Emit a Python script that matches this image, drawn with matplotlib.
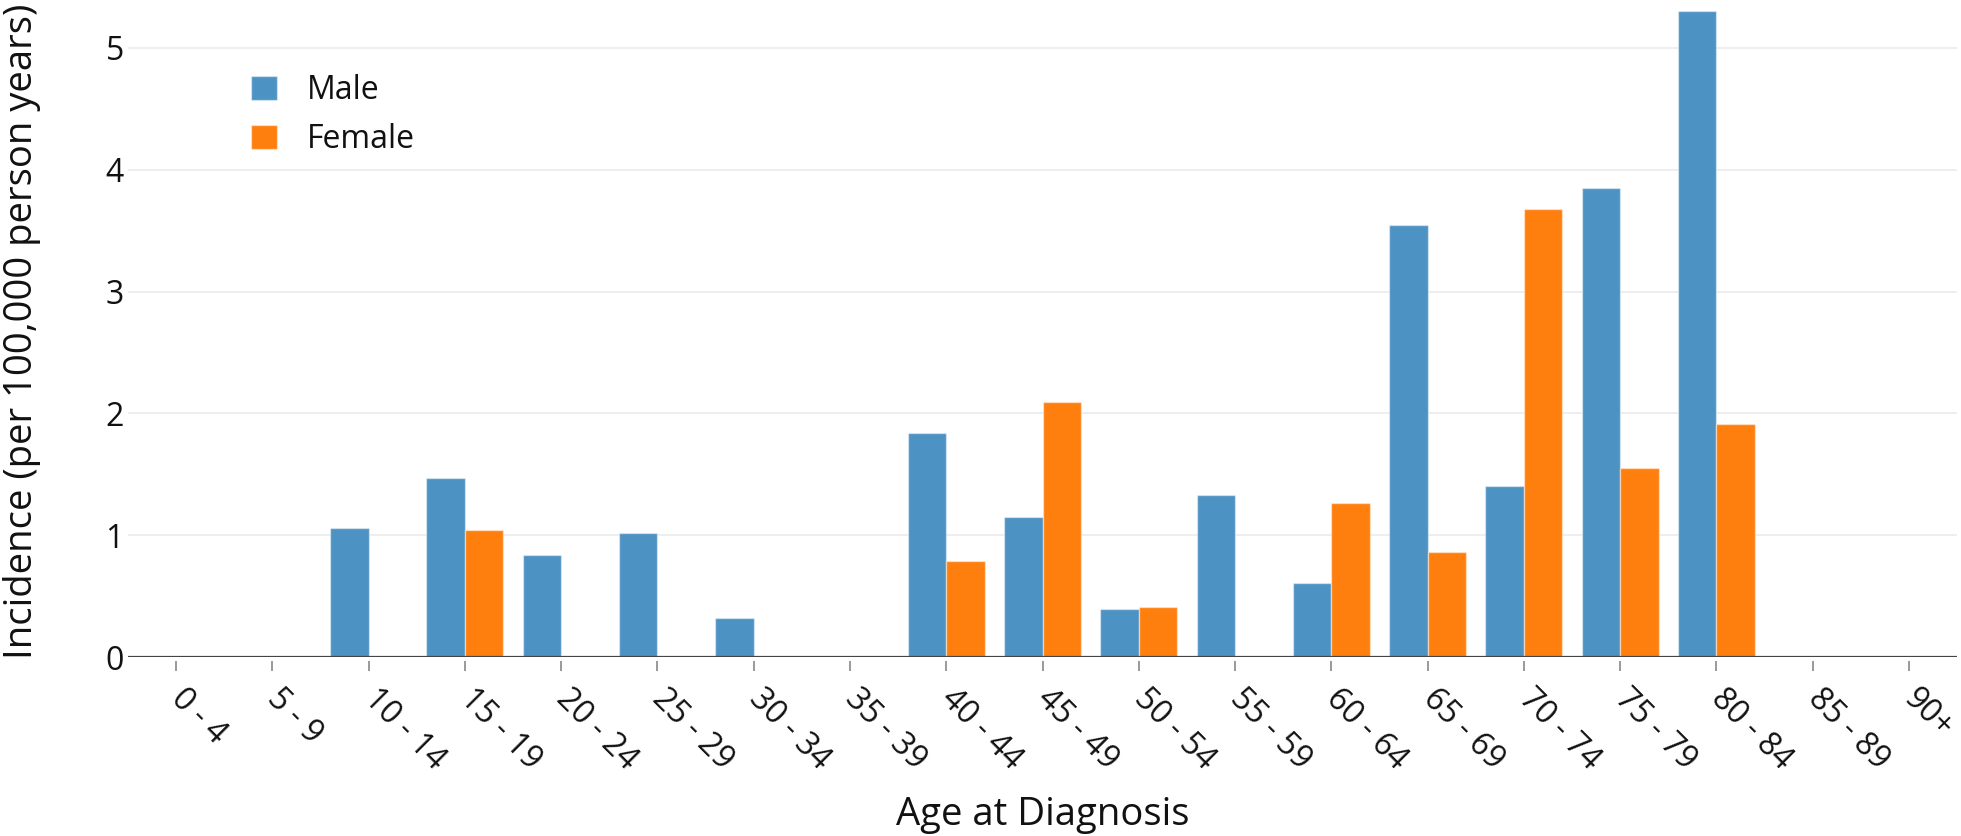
import numpy as np
import matplotlib.pyplot as plt
from matplotlib.patches import Patch

plt.rcParams['font.family'] = ['Open Sans', 'DejaVu Sans']

age_groups = ['0 - 4', '5 - 9', '10 - 14', '15 - 19', '20 - 24', '25 - 29', '30 - 34',
              '35 - 39', '40 - 44', '45 - 49', '50 - 54', '55 - 59', '60 - 64',
              '65 - 69', '70 - 74', '75 - 79', '80 - 84', '85 - 89', '90+']
male = [0, 0, 1.06, 1.47, 0.84, 1.02, 0.32, 0, 1.84, 1.15, 0.39, 1.33, 0.61,
        3.55, 1.40, 3.85, 5.30, 0, 0]
female = [0, 0, 0, 1.04, 0, 0, 0, 0, 0.79, 2.09, 0.41, 0, 1.26,
          0.86, 3.68, 1.55, 1.91, 0, 0]
yticks = [0, 1, 2, 3, 4, 5]

blue = '#4c92c3'
orange = '#ff7f0e'

W, H = 1961, 836
fig = plt.figure(figsize=(W / 100, H / 100), dpi=100)
# plot area in pixels: left 128, right 1957, top 4, zero line at 657
ax = fig.add_axes([128 / W, (H - 657) / H, (1957 - 128) / W, (657 - 4) / H])

x = np.arange(len(age_groups))
edge = (1, 1, 1, 0.45)
ax.bar(x - 0.2, male, width=0.4, color=blue, edgecolor=edge, linewidth=1.0, zorder=2)
ax.bar(x + 0.2, female, width=0.4, color=orange, edgecolor=edge, linewidth=1.0, zorder=2)

ax.set_xlim(-0.5, len(age_groups) - 0.5)
ax.set_ylim(0, 5.36)
ax.axhline(0, color='#444444', lw=1.6, zorder=3)

for s in ['top', 'right', 'left']:
    ax.spines[s].set_visible(False)
ax.spines['bottom'].set_position(('outward', 3))
ax.spines['bottom'].set_visible(False)

ax.set_yticks(yticks)
ax.yaxis.grid(True, color='#eeeeee', lw=1.4, zorder=0)
ax.set_axisbelow(True)
ax.tick_params(axis='y', length=0, pad=3, labelsize=23, labelcolor='#111111')

ax.set_xticks(x)
ax.set_xticklabels(age_groups, rotation=-45, ha='left', va='center',
                   rotation_mode='anchor')
ax.tick_params(axis='x', length=7.5, width=1.4, color='#999999', pad=16,
               labelsize=23, labelcolor='#111111')

fig.text((128 + 1957) / 2 / W, 1 - 825 / H, 'Age at Diagnosis', ha='center',
         va='baseline', fontsize=27.5, color='#111111')
fig.text(3 / W, 1 - 331 / H, 'Incidence (per 100,000 person years)', ha='left',
         va='center', rotation=90, fontsize=27.5, color='#111111')

handles = [Patch(facecolor=blue, edgecolor=edge, lw=1.0, label='Male'),
           Patch(facecolor=orange, edgecolor=edge, lw=1.0, label='Female')]
fig.legend(handles=handles, loc='upper left', bbox_to_anchor=(251 / W, 1 - 74 / H),
           frameon=False, borderpad=0, borderaxespad=0, fontsize=23,
           handlelength=0.8, handleheight=0.8, handletextpad=0.95,
           labelspacing=0.5, labelcolor='#111111')

fig.savefig('out.png', dpi=100)
